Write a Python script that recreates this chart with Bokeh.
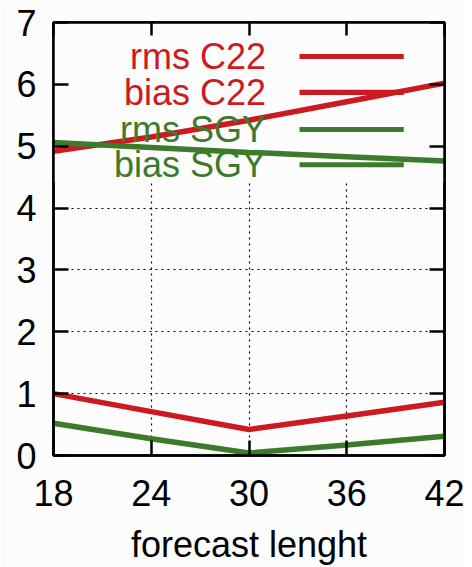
from bokeh.plotting import figure
from bokeh.models import (Range1d, LinearAxis, FixedTicker, Label, BoxAnnotation)
from bokeh.embed import file_html
from bokeh.resources import INLINE

# ---- data ----
forecast = [18, 24, 30, 36, 42]
rms_c22 = [4.92, 5.15, 5.42, 5.72, 6.02]
bias_c22 = [1.00, 0.71, 0.42, 0.64, 0.86]
rms_sgy = [5.06, 4.98, 4.90, 4.83, 4.76]
bias_sgy = [0.52, 0.27, 0.04, 0.17, 0.31]

x_ticks = [18, 24, 30, 36, 42]
y_ticks = [0, 1, 2, 3, 4, 5, 6, 7]
series_names = ["rms C22", "bias C22", "rms SGY", "bias SGY"]
RED = "#cc1a20"
GREEN = "#3c7a2c"
series_colors = [RED, RED, GREEN, GREEN]
series_values = [rms_c22, bias_c22, rms_sgy, bias_sgy]

FONT = "Liberation Sans"
BG = "#fcfcfc"

p = figure(width=464, height=567, output_backend="svg", toolbar_location=None,
           x_range=Range1d(18, 42), y_range=Range1d(0, 7),
           min_border_left=53, min_border_top=22, min_border_right=20,
           min_border_bottom=112, x_axis_label="forecast lenght",
           background_fill_color=BG, border_fill_color=BG)

p.outline_line_color = "black"
p.outline_line_width = 2.5
p.outline_line_alpha = 1

for ax in (p.xaxis[0], p.yaxis[0]):
    ax.axis_line_width = 2.5
    ax.major_tick_in = 15
    ax.major_tick_out = 0
    ax.major_tick_line_width = 2.5
    ax.minor_tick_line_color = None
    ax.major_label_text_font = FONT
    ax.major_label_text_color = "black"

p.xaxis[0].ticker = FixedTicker(ticks=x_ticks)
p.yaxis[0].ticker = FixedTicker(ticks=y_ticks)
p.xaxis[0].major_label_text_font_size = "36px"
p.yaxis[0].major_label_text_font_size = "36px"
p.xaxis[0].major_label_standoff = 24
p.yaxis[0].major_label_standoff = 17
p.xaxis[0].axis_label_text_font = FONT
p.xaxis[0].axis_label_text_font_size = "36px"
p.xaxis[0].axis_label_text_font_style = "normal"
p.xaxis[0].axis_label_text_color = "black"
p.xaxis[0].axis_label_standoff = 15

# mirrored axes (ticks only)
right = LinearAxis(ticker=FixedTicker(ticks=y_ticks), major_label_text_font_size="1px",
                   major_label_text_color=None,
                   major_tick_in=15, major_tick_out=0, major_tick_line_width=2.5,
                   axis_line_width=2.5, minor_tick_line_color=None, major_label_standoff=0)
top = LinearAxis(ticker=FixedTicker(ticks=x_ticks), major_label_text_font_size="1px",
                 major_label_text_color=None,
                 major_tick_in=13, major_tick_out=0, major_tick_line_width=2.5,
                 axis_line_width=2.5, minor_tick_line_color=None, major_label_standoff=0)
p.add_layout(right, "right")
p.add_layout(top, "above")

# grid
p.xgrid.ticker = FixedTicker(ticks=x_ticks)
p.ygrid.ticker = FixedTicker(ticks=y_ticks)
for g in (p.xgrid[0], p.ygrid[0]):
    g.grid_line_color = "black"
    g.grid_line_dash = "2 4"
    g.grid_line_width = 1.2
    g.grid_line_alpha = 1

# opaque key box covering the grid
key_box = BoxAnnotation(left=18, right=42, bottom=4.42, top=7,
                        fill_color=BG, fill_alpha=1, line_color=None,
                        level="underlay")
p.add_layout(key_box)

# series
for name, vals, col in zip(series_names, series_values, series_colors):
    p.line(forecast, vals, line_color=col, line_width=5.5)

# key
key_rows = [6.45, 5.87, 5.27, 4.70]
for name, col, yy in zip(series_names, series_colors, key_rows):
    p.add_layout(Label(x=31.05, y=yy, text=name, text_color=col, text_font=FONT,
                       text_font_size="36px", text_align="right",
                       text_baseline="middle"))
    p.add_layout(BoxAnnotation(left=33.1, right=39.5, bottom=yy - 0.042, top=yy + 0.042,
                               fill_color=col, fill_alpha=1, line_color=None,
                               level="overlay"))

open("out.html", "w").write(file_html(p, INLINE))
